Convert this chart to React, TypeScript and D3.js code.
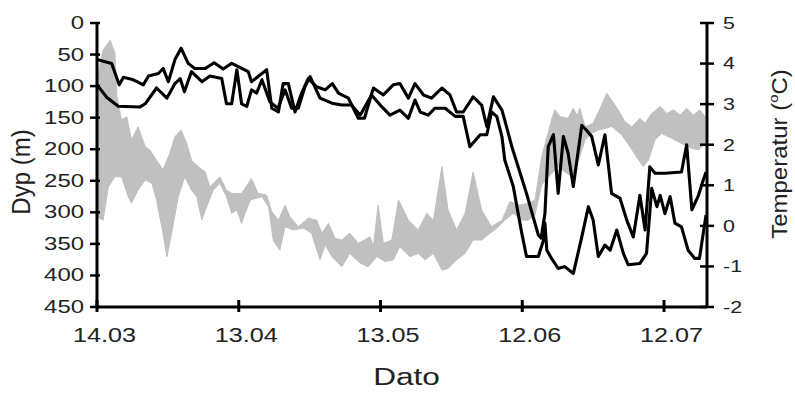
import React from "react";
import * as d3 from "d3";

const W = 795;
const H = 402;

// Axis ticks
const dayTicks = [0, 30, 60, 90, 120];
const dayTickLabels = ["14.03", "13.04", "13.05", "12.06", "12.07"];
const depthTicks = [0, 50, 100, 150, 200, 250, 300, 350, 400, 450];
const tempTicks = [5, 4, 3, 2, 1, 0, -1, -2];

// Depth track A (days since 14.03, metres)
const trackADay = [0, 3.1, 4.7, 5.6, 7.7, 9.8, 10.9, 13.0, 14.0, 15.1, 16.5, 17.8, 19.3, 20.7, 22.9, 24.8, 26.7, 28.5, 29.9, 32.0, 32.7, 35.9, 37.0, 38.4, 39.4, 40.5, 41.9, 43.3, 44.7, 46.5, 48.3, 49.8, 51.1, 53.2, 55.3, 56.6, 58.5, 60.6, 62.7, 64.1, 65.9, 67.3, 69.1, 70.8, 73.0, 74.7, 76.1, 77.5, 79.6, 81.4, 82.5, 83.9, 85.7, 86.3, 87.8, 90.9, 93.4, 94.0, 94.8, 95.5, 96.6, 97.6, 98.7, 99.7, 100.8, 102.6, 103.6, 104.7, 106.1, 107.5, 108.9, 110.7, 112.1, 113.5, 114.9, 116.0, 117.0, 118.1, 120.2, 123.7, 124.8, 125.9, 127.3, 128.3, 128.9];
const trackADepth = [58, 64, 98, 86, 90, 98, 84, 80, 72, 93, 58, 40, 64, 72, 72, 63, 73, 64, 69, 77, 93, 74, 135, 141, 96, 96, 141, 111, 88, 101, 106, 96, 111, 119, 151, 151, 103, 114, 98, 96, 119, 96, 114, 119, 103, 114, 141, 141, 117, 130, 164, 117, 138, 154, 196, 270, 336, 341, 302, 196, 177, 270, 180, 206, 259, 162, 170, 180, 225, 177, 270, 278, 312, 339, 273, 328, 228, 238, 238, 236, 193, 296, 273, 249, 236];

// Depth track B
const trackBDay = [0, 2.1, 4.5, 9.1, 10.2, 12.6, 14.8, 16.5, 17.6, 18.5, 20.0, 22.2, 23.9, 26.4, 27.4, 28.5, 29.6, 30.6, 31.7, 32.7, 33.8, 34.9, 36.6, 38.3, 39.8, 41.2, 42.6, 44.0, 45.1, 47.2, 49.7, 51.8, 53.9, 55.7, 58.1, 60.3, 62.0, 64.1, 65.9, 67.3, 68.4, 70.1, 71.5, 73.7, 75.8, 77.5, 78.9, 81.1, 82.5, 83.5, 84.6, 85.7, 86.3, 88.1, 89.9, 90.9, 93.4, 94.5, 94.8, 95.2, 96.2, 97.6, 99.0, 100.8, 102.6, 104.0, 105.0, 106.1, 107.5, 108.6, 110.0, 111.4, 112.4, 114.9, 116.3, 117.4, 118.5, 119.2, 120.2, 121.3, 122.3, 123.7, 125.1, 126.5, 127.5, 128.9];
const trackBDepth = [98, 118, 132, 133, 128, 103, 119, 96, 88, 109, 77, 93, 84, 88, 128, 128, 74, 128, 132, 106, 111, 90, 125, 135, 106, 135, 135, 101, 85, 119, 127, 130, 130, 146, 114, 133, 146, 138, 151, 122, 141, 146, 135, 135, 148, 148, 196, 177, 177, 141, 148, 180, 217, 259, 333, 370, 370, 344, 317, 360, 373, 389, 386, 397, 339, 291, 312, 370, 352, 360, 328, 365, 383, 381, 365, 262, 291, 273, 302, 275, 317, 323, 360, 373, 373, 304];

// Temperature range: upper edge (max) and lower edge (min), °C
const tempMaxDay = [0, 1.3, 2.8, 3.8, 4.2, 5.2, 6.3, 7.3, 8.7, 10.2, 11.2, 12.6, 14.0, 15.4, 16.5, 17.8, 19.0, 20.0, 21.4, 22.9, 23.9, 26.0, 27.4, 28.5, 30.6, 32.7, 34.1, 35.9, 37.0, 38.4, 39.8, 40.8, 42.6, 44.7, 46.5, 47.6, 49.0, 50.4, 51.8, 53.5, 55.3, 57.8, 58.5, 59.5, 60.6, 62.4, 63.8, 65.9, 68.0, 69.8, 71.2, 73.0, 74.3, 76.1, 77.9, 79.6, 81.4, 83.5, 85.7, 87.4, 89.5, 91.3, 92.7, 94.1, 96.2, 96.9, 98.0, 99.7, 100.8, 101.6, 102.2, 103.3, 105.0, 106.5, 107.9, 108.9, 110.3, 111.7, 113.2, 114.9, 116.0, 117.4, 119.2, 120.6, 122.0, 123.4, 124.8, 126.2, 127.6, 128.7];
const tempMax = [3.67, 4.33, 4.58, 4.25, 3.18, 2.61, 2.69, 2.12, 2.44, 1.95, 1.87, 1.62, 1.38, 1.79, 2.2, 2.36, 2.03, 1.62, 1.46, 1.33, 0.96, 1.21, 0.88, 0.8, 0.8, 1.17, 0.8, 0.76, 0.35, 0.14, 0.51, 0.23, -0.02, 0.19, 0.14, -0.18, 0.06, -0.31, -0.35, -0.18, -0.43, -0.27, -0.51, 0.51, -0.43, -0.35, 0.64, 0.14, -0.1, 0.31, 0.14, 1.46, 0.39, -0.1, 0.31, 1.33, 0.39, -0.02, 0.14, 0.6, 0.51, 0.56, 0.64, 1.7, 2.61, 2.86, 2.69, 2.65, 2.9, 2.71, 2.9, 2.44, 2.53, 2.9, 3.27, 3.1, 2.86, 2.57, 2.44, 2.65, 2.53, 2.77, 2.94, 2.77, 2.86, 2.73, 2.9, 2.73, 2.86, 2.69];
const tempMinDay = [0, 1.3, 2.4, 3.8, 5.2, 6.6, 7.3, 8.7, 10.2, 11.6, 12.6, 13.7, 14.8, 15.8, 17.2, 18.6, 20.0, 21.1, 22.2, 23.2, 24.6, 26.0, 27.4, 28.5, 29.6, 30.6, 31.3, 32.5, 34.9, 36.3, 37.3, 38.7, 39.8, 41.5, 43.7, 45.4, 47.2, 48.3, 49.7, 51.8, 53.5, 55.7, 57.4, 59.2, 61.0, 62.7, 64.1, 66.2, 68.0, 69.4, 71.2, 73.0, 74.3, 76.1, 77.9, 79.6, 81.4, 83.2, 84.6, 86.3, 88.1, 89.9, 91.3, 92.7, 94.1, 95.9, 97.6, 99.0, 100.5, 101.9, 103.3, 104.7, 106.1, 107.5, 108.9, 111.0, 112.8, 114.2, 115.6, 116.7, 118.1, 119.5, 121.6, 123.7, 125.9, 127.3, 128.7];
const tempMin = [0.23, 0.14, 0.96, 1.21, 1.21, 0.72, 0.56, 0.88, 1.13, 1.05, 0.64, -0.02, -0.76, -0.18, 0.72, 1.21, 0.88, 0.72, 0.14, 0.47, 0.88, 1.05, 0.72, 0.31, 0.39, 0.06, 0.3, 0.64, 0.72, 0.47, -0.35, -0.6, -0.02, -0.1, -0.06, -0.18, -0.84, -0.47, -0.76, -1.01, -0.68, -0.92, -1.01, -0.76, -0.88, -0.84, -0.51, -0.76, -0.68, -0.84, -0.68, -1.09, -1.05, -0.84, -0.68, -0.35, -0.35, -0.18, -0.06, 0.14, 0.31, 0.14, 0.14, 0.27, 1.01, 1.25, 1.46, 1.33, 1.21, 1.62, 2.12, 2.28, 2.36, 2.4, 2.45, 2.25, 1.95, 1.7, 1.46, 1.62, 2.12, 2.28, 2.16, 2.03, 1.91, 1.87, 2.03];

const FONT = "'Liberation Sans', Arial, Helvetica, sans-serif";
const TEXT = "#222";

export default function App() {
  const x = d3.scaleLinear().domain([0, 129.1]).range([97, 707]);
  const yD = d3.scaleLinear().domain([0, 450]).range([23, 307]);
  const yT = d3.scaleLinear().domain([5, -2]).range([23, 307]);

  const depthLine = d3
    .line<[number, number]>()
    .x((d) => x(d[0]))
    .y((d) => yD(d[1]));
  const tempLine = d3
    .line<[number, number]>()
    .x((d) => x(d[0]))
    .y((d) => yT(d[1]));

  const trackA = trackADay.map((d, i) => [d, trackADepth[i]] as [number, number]);
  const trackB = trackBDay.map((d, i) => [d, trackBDepth[i]] as [number, number]);
  const upper = tempMaxDay.map((d, i) => [d, tempMax[i]] as [number, number]);
  const lower = tempMinDay.map((d, i) => [d, tempMin[i]] as [number, number]);
  const band = tempLine([...upper, ...lower.slice().reverse()]) + "Z";

  const x0 = x(0);
  const x1 = x(129.1);
  const yBottom = yD(450);
  const yTop = yD(0);

  return (
    <svg
      width={W}
      height={H}
      style={{ position: "absolute", left: 0, top: 0, background: "#fff" }}
      fontFamily={FONT}
    >
      <rect x={0} y={0} width={W} height={H} fill="#fff" />
      <path d={band} fill="#c0c0c0" stroke="#c0c0c0" strokeWidth={1} />
      <path d={depthLine(trackB) || ""} fill="none" stroke="#000" strokeWidth={3.1} strokeLinejoin="round" />
      <path d={depthLine(trackA) || ""} fill="none" stroke="#000" strokeWidth={3.1} strokeLinejoin="round" />

      {/* axes */}
      <line x1={x0} x2={x0} y1={yTop} y2={yBottom} stroke="#000" strokeWidth={3} />
      <line x1={x1} x2={x1} y1={yTop} y2={yBottom} stroke="#000" strokeWidth={3} />
      <line x1={x0} x2={x1} y1={yBottom} y2={yBottom} stroke="#000" strokeWidth={3} />

      {depthTicks.map((v) => (
        <g key={"d" + v}>
          <line x1={x0 - 7} x2={x0 + 3} y1={yD(v)} y2={yD(v)} stroke="#000" strokeWidth={2.5} />
          <text
            transform={`translate(84,${yD(v) + 6}) scale(1.33,1)`}
            textAnchor="end"
            fontSize={18}
            fill={TEXT}
          >
            {v}
          </text>
        </g>
      ))}

      {tempTicks.map((v) => (
        <g key={"t" + v}>
          <line x1={x1 - 7} x2={x1 + 7} y1={yT(v)} y2={yT(v)} stroke="#000" strokeWidth={2.5} />
          <text
            transform={`translate(723,${yT(v) + 5.8}) scale(1.3,1)`}
            textAnchor="start"
            fontSize={16.5}
            fill={TEXT}
          >
            {String(v)}
          </text>
        </g>
      ))}

      {dayTicks.map((v, i) => (
        <g key={"x" + v}>
          <line x1={x(v)} x2={x(v)} y1={yBottom - 7} y2={yBottom + 5} stroke="#000" strokeWidth={3} />
          <text
            transform={`translate(${x(v) + 7.5},342) scale(1.2,1)`}
            textAnchor="middle"
            fontSize={21}
            fill={TEXT}
          >
            {dayTickLabels[i]}
          </text>
        </g>
      ))}

      <text transform="translate(406.5,384.5) scale(1.29,1)" textAnchor="middle" fontSize={24.5} fill={TEXT}>
        Dato
      </text>
      <text transform="translate(30,172) scale(1.1,1) rotate(-90)" textAnchor="middle" fontSize={24} fill={TEXT}>
        Dyp (m)
      </text>
      <text transform="translate(787,154) scale(0.9,1) rotate(-90)" textAnchor="middle" fontSize={24} fill={TEXT}>
        Temperatur (
        <tspan fontSize={15} dy={-10}>o</tspan>
        <tspan dy={10}>C)</tspan>
      </text>
    </svg>
  );
}
